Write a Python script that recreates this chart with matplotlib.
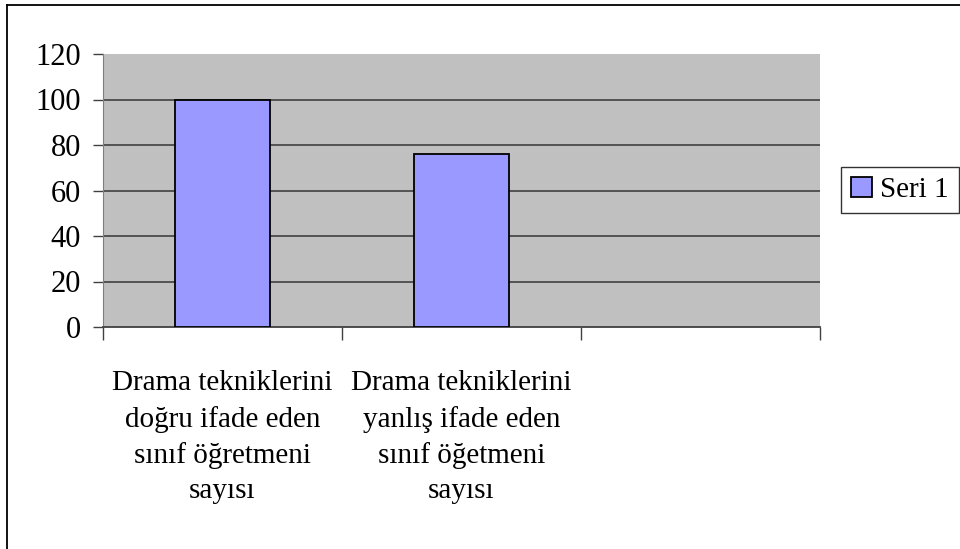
import matplotlib.pyplot as plt
from matplotlib.lines import Line2D

categories = ['Drama tekniklerini\ndoğru ifade eden\nsınıf öğretmeni\nsayısı',
              'Drama tekniklerini\nyanlış ifade eden\nsınıf öğetmeni\nsayısı',
              '']
values = [100, 76, None]
series_name = 'Seri 1'
yticks = [0, 20, 40, 60, 80, 100, 120]

plt.rcParams['font.family'] = ['Liberation Serif', 'DejaVu Serif']

fig = plt.figure(figsize=(9.6, 5.49), dpi=100)
ax = fig.add_axes([103/960, 1-327/549, (820-103)/960, (327-54)/549])
ax.set_facecolor('#c0c0c0')

xs = [i for i, v in enumerate(values) if v is not None]
hs = [v for v in values if v is not None]
ax.bar(xs, hs, width=0.4, color='#9999ff', edgecolor='black', linewidth=1.3,
       label=series_name, zorder=3)

ax.set_xlim(-0.5, 2.5)
ax.set_ylim(0, 120)
ax.set_yticks(yticks)
ax.set_yticklabels([str(t) for t in yticks], fontsize=22)
for t in yticks[1:-1]:
    ax.axhline(t, color='#404040', linewidth=1.2, zorder=1)

ax.set_xticks([-0.5, 0.5, 1.5, 2.5])
ax.set_xticklabels([])
ax.tick_params(axis='x', direction='out', length=9.5, width=1, color='#404040')
ax.tick_params(axis='y', direction='out', length=7, width=1, color='#404040', pad=9)
for i, c in enumerate(categories):
    ax.text(i, -19, c, ha='center', va='top', fontsize=21, linespacing=1.45)

for s in ['top', 'right']:
    ax.spines[s].set_visible(False)
ax.spines['left'].set_color('#808080')
ax.spines['bottom'].set_color('#404040')
ax.spines['bottom'].set_linewidth(1.3)

leg = ax.legend(loc='center left', fontsize=21, frameon=True, fancybox=False,
                edgecolor='black', handlelength=0.7, handleheight=0.7,
                handletextpad=0.3, borderpad=0.35, borderaxespad=0)
leg.get_frame().set_linewidth(1)
leg.set_bbox_to_anchor((841/960, 1-190/549), transform=fig.transFigure)

# chart area border (top and left edges visible)
fig.add_artist(Line2D([7/960, 7/960], [0, 1-5/549], transform=fig.transFigure,
                      color='black', linewidth=1.3))
fig.add_artist(Line2D([7/960, 1], [1-5/549, 1-5/549], transform=fig.transFigure,
                      color='black', linewidth=1.3))

fig.savefig('out.png', dpi=100)
